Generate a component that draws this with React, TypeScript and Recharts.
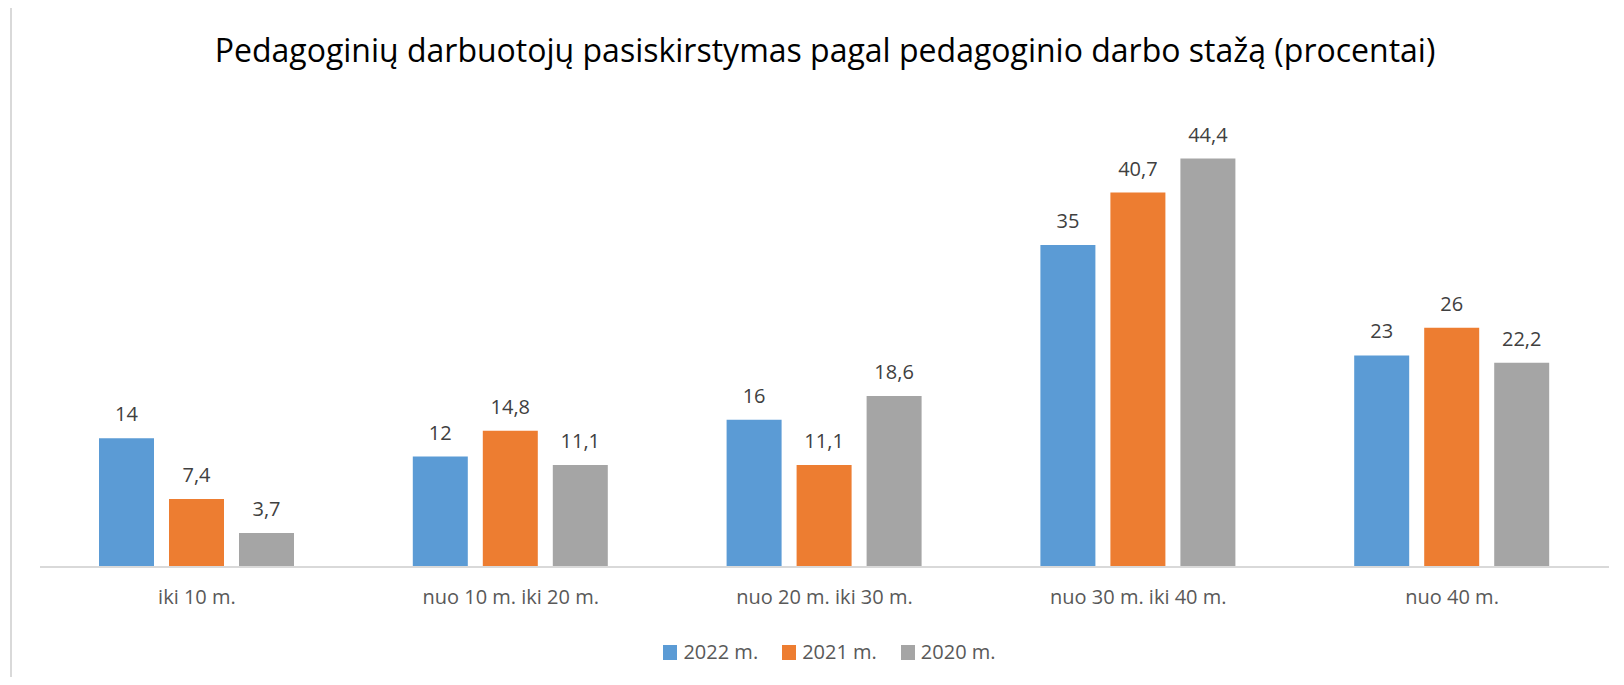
import React from 'react';
import { BarChart, Bar, XAxis, YAxis, LabelList } from 'recharts';

const categories = ['iki 10 m.', 'nuo 10 m. iki 20 m.', 'nuo 20 m. iki 30 m.', 'nuo 30 m. iki 40 m.', 'nuo 40 m.'];
const values2022 = [14, 12, 16, 35, 23];
const values2021 = [7.4, 14.8, 11.1, 40.7, 26];
const values2020 = [3.7, 11.1, 18.6, 44.4, 22.2];
const seriesKeys = ['y2022', 'y2021', 'y2020'];
const seriesNames = ['2022 m.', '2021 m.', '2020 m.'];
const seriesColors = ['#5B9BD5', '#ED7D31', '#A5A5A5'];

const data = categories.map((name, i) => ({
  name,
  y2022: values2022[i],
  y2021: values2021[i],
  y2020: values2020[i],
}));

const FONT = '"Open Sans", Lato, sans-serif';
const fmt = (v: any) => String(v).replace('.', ',');

export default function App() {
  return (
    <div style={{ margin: -8, width: 1624, height: 685, position: 'relative', overflow: 'hidden', background: '#fff', fontFamily: FONT }}>
      {/* chart frame */}
      <div style={{ position: 'absolute', left: 10, top: 6, width: 1700, height: 800, border: '2px solid #D9D9D9' }} />

      <div style={{ position: 'absolute', left: 0, top: 28, width: 1650, textAlign: 'center', fontSize: 32, lineHeight: '44px', color: '#000', whiteSpace: 'nowrap' }}>
        Pedagoginių darbuotojų pasiskirstymas pagal pedagoginio darbo stažą (procentai)
      </div>

      <div style={{ position: 'absolute', left: 0, top: 0 }}>
        <BarChart
          width={1624}
          height={685}
          data={data}
          margin={{ top: 107, right: 15, left: 40, bottom: 78 }}
          barSize={55}
          barGap={15}
          style={{ fontFamily: FONT }}
        >
          <XAxis
            dataKey="name"
            height={40}
            tickLine={false}
            tickSize={0}
            tickMargin={23}
            axisLine={{ stroke: '#D9D9D9', strokeWidth: 2 }}
            tick={{ fontSize: 20, fill: '#595959' }}
            interval={0}
          />
          <YAxis hide domain={[0, 50]} />
          {seriesKeys.map((k, i) => (
            <Bar key={k} dataKey={k} name={seriesNames[i]} fill={seriesColors[i]} isAnimationActive={false}>
              <LabelList dataKey={k} position="top" offset={17} formatter={fmt} style={{ fontSize: 20, fill: '#404040' }} />
            </Bar>
          ))}
        </BarChart>
      </div>

      <div style={{ position: 'absolute', left: 0, top: 638, width: 1659, display: 'flex', justifyContent: 'center', fontSize: 20, lineHeight: '28px', color: '#595959' }}>
        {seriesNames.map((n, i) => (
          <div key={n} style={{ display: 'flex', alignItems: 'center', marginRight: i < 2 ? 24 : 0 }}>
            <div style={{ width: 14, height: 15, background: seriesColors[i], marginRight: 6 }} />
            <span>{n}</span>
          </div>
        ))}
      </div>
    </div>
  );
}
